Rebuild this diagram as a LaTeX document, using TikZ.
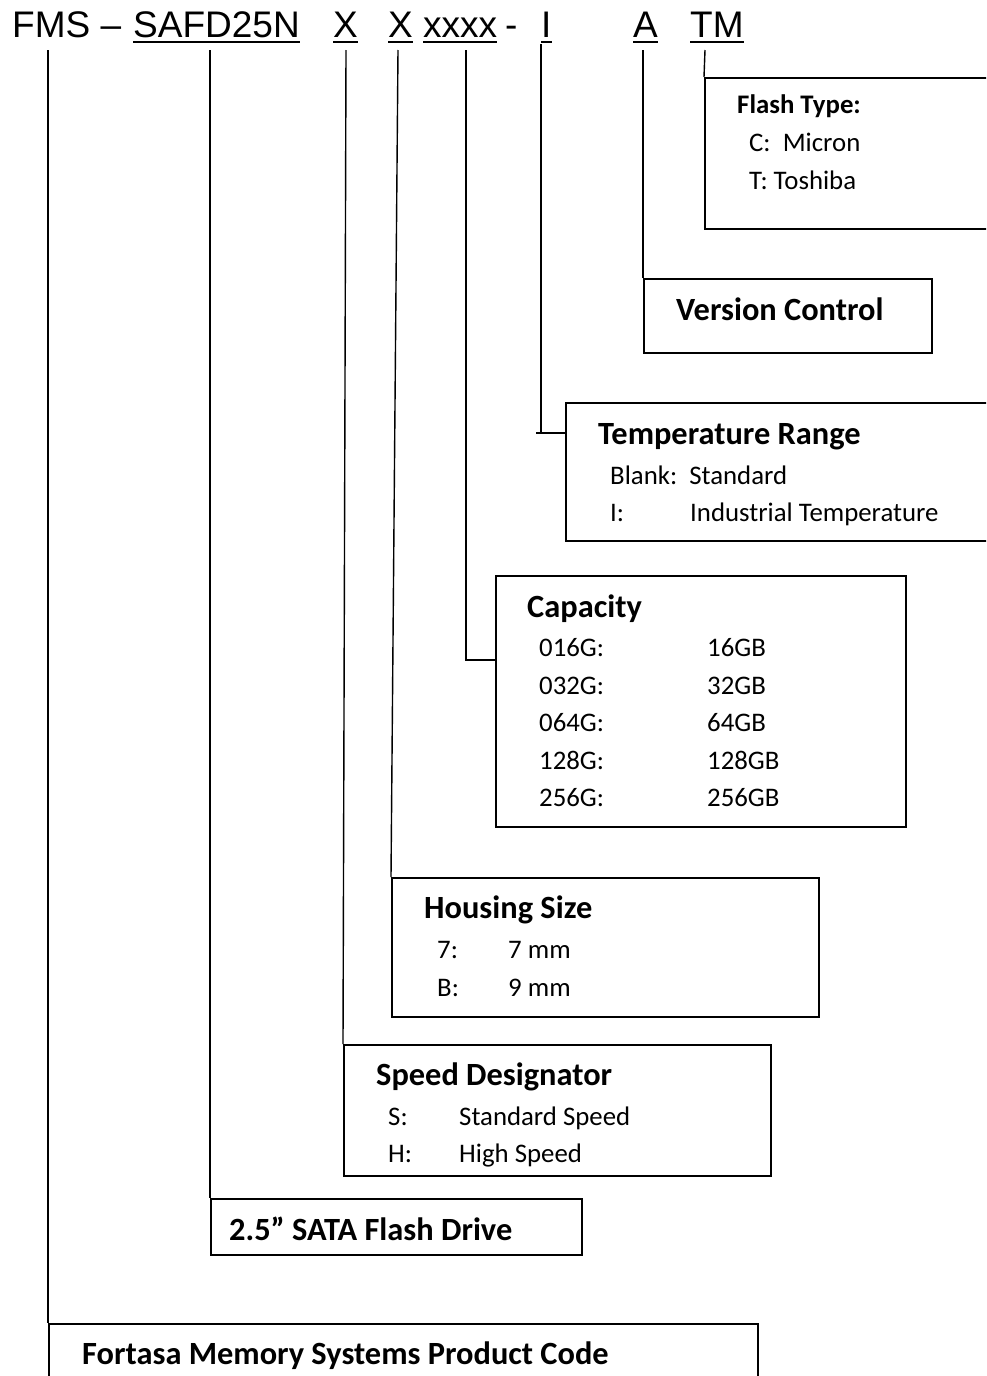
\documentclass[tikz,border=0pt]{standalone}
\usepackage{fontspec}
\setmainfont{Carlito}
\newfontfamily\arialf{Liberation Sans}
\usetikzlibrary{calc}
\begin{document}
\begin{tikzpicture}[x=1pt,y=-1pt,
  box/.style={draw=black, line width=1.5pt, anchor=north west, inner sep=0pt, rectangle},
  code/.style={anchor=base west, inner sep=0pt, font=\arialf\fontsize{37}{40}\selectfont},
  hd/.style={anchor=base west, inner sep=0pt, font=\bfseries\fontsize{32.4}{36}\selectfont},
  hds/.style={anchor=base west, inner sep=0pt, font=\bfseries\fontsize{26.8}{30}\selectfont},
  tx/.style={anchor=base west, inner sep=0pt, font=\fontsize{26.8}{30}\selectfont},
  ln/.style={line width=1.4pt},
  ul/.style={line width=2.2pt}]
\useasboundingbox (0,0) rectangle (986,1376);
\clip (0,0) rectangle (986,1376);

% ---- code line ----
\node[code] (fms) at (12,37) {FMS –};
\node[code] (safd) at (133,37) {SAFD25N};
\node[code] (xa) at (333,37) {X};
\node[code] (xb) at (388,37) {X};
\node[code] (xxxx) at (423,37) {xxxx};
\node[code] (dash) at (505,37) {-};
\node[code] (ii) at (541,37) {I};
\node[code] (aa) at (633,37) {A};
\node[code] (tm) at (690,37) {TM};

\foreach \n in {safd,xa,xb,xxxx,ii,aa,tm}{
  \draw[ul] ([yshift=-5pt]\n.base west) -- ([yshift=-5pt]\n.base east);
}

% ---- boxes ----
\node[box, minimum width=320, minimum height=151] (flash) at (704,77) {};
\node[box, minimum width=288, minimum height=74] (version) at (643,278) {};
\node[box, minimum width=460, minimum height=138] (temp) at (565,402) {};
\node[box, minimum width=410, minimum height=251] (cap) at (495,575) {};
\node[box, minimum width=427, minimum height=139] (housing) at (391,877) {};
\node[box, minimum width=427, minimum height=131] (speed) at (343,1044) {};
\node[box, minimum width=371, minimum height=56] (b25) at (210,1198) {};
\node[box, minimum width=709, minimum height=100] (fortasa) at (48,1323) {};

% ---- box texts ----
\node[hds] (flashh) at (737,113.5) {Flash Type:};
\node[tx] (flash1) at (749,151.5) {C:\ \ Micron};
\node[tx] (flash2) at (749,189.5) {T: Toshiba};

\node[hd] (versionh) at (676,320) {Version Control};

\node[hd] (temph) at (598,444) {Temperature Range};
\node[tx] (temp1) at (610,484.5) {Blank:\ \ Standard};
\node[tx] (temp2a) at (610,521.5) {I:};
\node[tx] (temp2b) at (690,521.5) {Industrial Temperature};

\node[hd] (caph) at (527,617) {Capacity};
\node[tx] (c1a) at (539,656.5) {016G:};
\node[tx] (c1b) at (707,656.5) {16GB};
\node[tx] (c2a) at (539,694.5) {032G:};
\node[tx] (c2b) at (707,694.5) {32GB};
\node[tx] (c3a) at (539,731.5) {064G:};
\node[tx] (c3b) at (707,731.5) {64GB};
\node[tx] (c4a) at (539,769.5) {128G:};
\node[tx] (c4b) at (707,769.5) {128GB};
\node[tx] (c5a) at (539,806.5) {256G:};
\node[tx] (c5b) at (707,806.5) {256GB};

\node[hd] (housingh) at (424,918) {Housing Size};
\node[tx] (h1a) at (437,958.5) {7:};
\node[tx] (h1b) at (508,958.5) {7 mm};
\node[tx] (h2a) at (437,996.5) {B:};
\node[tx] (h2b) at (508,996.5) {9 mm};

\node[hd] (speedh) at (376,1085) {Speed Designator};
\node[tx] (s1a) at (388,1125.5) {S:};
\node[tx] (s1b) at (459,1125.5) {Standard Speed};
\node[tx] (s2a) at (388,1162.5) {H:};
\node[tx] (s2b) at (459,1162.5) {High Speed};

\node[hd] (b25h) at (229,1240) {2.5” SATA Flash Drive};

\node[hd] (fortasah) at (82,1364) {Fortasa Memory Systems Product Code};

% ---- connectors ----
\coordinate (cfms) at (48,50);
\coordinate (csafd) at (210,50);
\coordinate (cxa) at (346,50);
\coordinate (cxb) at (398,50);
\coordinate (cxxxx) at (466,50);
\coordinate (kxxxx) at (466,660);
\coordinate (cii) at (541,44);
\coordinate (kii) at (541,433);
\coordinate (tii) at (536,433);
\coordinate (caa) at (643,50);
\coordinate (ctm) at (705,50);

\draw[ln] (cfms) -- (fortasa.north west);
\draw[ln] (csafd) -- (b25.north west);
\draw[ln] (cxa) -- (speed.north west);
\draw[ln] (cxb) -- (housing.north west);
\draw[ln] (cxxxx) -- (kxxxx) -- (kxxxx -| cap.west);
\draw[ln] (cii) -- (kii);
\draw[ln] (tii) -- (tii -| temp.west);
\draw[ln] (caa) -- (version.north west);
\draw[ln] (ctm) -- (flash.north west);
\end{tikzpicture}
\end{document}
